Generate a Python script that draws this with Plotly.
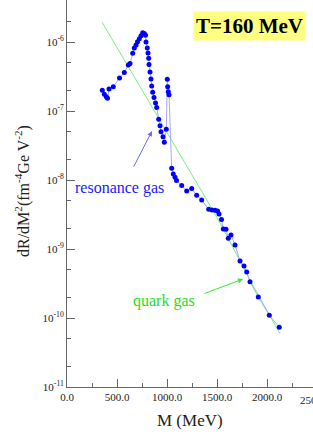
import plotly.graph_objects as go

# resonance gas rate (blue points)
mass_res = [353, 373, 393, 405, 420, 463, 525, 573, 613, 630, 657, 673, 690, 705, 723, 740,
            757, 773, 785, 790, 803, 810, 817, 820, 830, 840, 847, 857, 870, 885, 897, 917,
            930, 940, 960, 973, 993, 1003, 1007, 1013, 1020, 1047, 1063, 1080, 1095, 1147,
            1197, 1247, 1297, 1347, 1417, 1450, 1480, 1505, 1520, 1545, 1563, 1590, 1613,
            1640, 1680, 1730, 1770, 1797, 1830, 1913, 2023, 2123]
rate_res = [2.01e-7, 1.76e-7, 1.61e-7, 1.53e-7, 2.08e-7, 2.25e-7, 3.01e-7, 3.61e-7, 4.64e-7,
            4.88e-7, 6.86e-7, 8.19e-7, 9.05e-7, 1.01e-6, 1.12e-6, 1.24e-6, 1.37e-6, 1.33e-6,
            1.26e-6, 1.00e-6, 8.19e-7, 6.93e-7, 5.81e-7, 4.72e-7, 3.67e-7, 2.91e-7, 2.30e-7,
            1.88e-7, 1.57e-7, 1.31e-7, 1.13e-7, 7.58e-8, 6.12e-8, 5.01e-8, 4.24e-8, 3.52e-8,
            5.43e-8, 2.88e-7, 2.25e-7, 1.90e-7, 1.73e-7, 1.48e-8, 1.22e-8, 1.10e-8, 9.84e-9,
            8.32e-9, 6.93e-9, 7.53e-9, 6.02e-9, 5.13e-9, 3.76e-9, 3.68e-9, 3.64e-9, 3.56e-9,
            3.22e-9, 2.69e-9, 1.95e-9, 1.93e-9, 1.43e-9, 1.60e-9, 1.14e-9, 6.70e-10, 5.67e-10,
            4.64e-10, 3.36e-10, 2.02e-10, 1.10e-10, 7.33e-11]

# quark gas rate (green line)
mass_qgp = [350, 1030, 1510, 1830, 2130]
rate_qgp = [1.95e-6, 4.07e-8, 2.72e-9, 3.56e-10, 5.9e-11]

xtick_vals = [0, 500, 1000, 1500, 2000]
xtick_text = ["0.0", "500.0", "1000.0", "1500.0", "2000.0"]
ytick_vals = [1e-11, 1e-10, 1e-9, 1e-8, 1e-7, 1e-6]
ytick_text = ["10<sup>-11</sup>", "10<sup>-10</sup>", "10<sup>-9</sup>", "10<sup>-8</sup>",
              "10<sup>-7</sup>", "10<sup>-6</sup>"]

SERIF = "Times New Roman, Liberation Serif, serif"
L, B, PW, PH = 67, 49, 246, 387


def px(xp):
    return (xp - L) / PW


def py(yp):
    return (PH - yp) / PH


fig = go.Figure()
fig.add_trace(go.Scatter(x=mass_qgp, y=rate_qgp, mode="lines",
                         line=dict(color="#7cf07c", width=1), showlegend=False))
fig.add_trace(go.Scatter(x=mass_res, y=rate_res, mode="lines+markers",
                         line=dict(color="#a8a8ff", width=1),
                         marker=dict(color="#0000ff", size=5), showlegend=False))

axis_common = dict(showgrid=False, zeroline=False, showline=True, linecolor="#666666",
                   linewidth=1, ticks="inside", tickcolor="#666666", ticklen=8,
                   tickfont=dict(family=SERIF, size=11, color="#222222"))

fig.update_xaxes(range=[0, 2460], tickvals=xtick_vals, ticktext=xtick_text,
                 minor=dict(ticks="inside", ticklen=4, dtick=250, tickcolor="#666666"),
                 **axis_common)
fig.update_yaxes(type="log", range=[-11, -5.39], tickvals=ytick_vals, ticktext=ytick_text,
                 minor=dict(ticks="inside", ticklen=4, tickcolor="#666666"),
                 **axis_common)

C = dict(xanchor="center", yanchor="middle", showarrow=False, xref="paper", yref="paper")

fig.add_annotation(text="<b>T=160 MeV</b>", x=px(249.5), y=py(25.5), bgcolor="#ffff80",
                   borderpad=2, font=dict(family=SERIF, size=21, color="black"),
                   **C)

fig.add_annotation(text="resonance gas", x=px(119), y=py(188),
                   font=dict(family=SERIF, size=16, color="#1a1aff"), **C)
fig.add_annotation(x=850, y=-7.29, xref="x", yref="y", text="", showarrow=True,
                   ax=-19, ay=37, arrowhead=2, arrowsize=1, arrowwidth=1,
                   arrowcolor="#6a6aff")

fig.add_annotation(text="quark gas", x=px(164), y=py(301),
                   font=dict(family=SERIF, size=16, color="#22e022"), **C)
fig.add_annotation(x=1760, y=-9.435, xref="x", yref="y", text="", showarrow=True,
                   ax=-40, ay=15, arrowhead=2, arrowsize=1, arrowwidth=1,
                   arrowcolor="#33ee33")

fig.add_annotation(text="dR/dM<sup>2</sup>(fm<sup>-4</sup>Ge V<sup>-2</sup>)", x=px(22),
                   y=py(191), textangle=-90,
                   font=dict(family=SERIF, size=16, color="#222222"), **C)
fig.add_annotation(text="M (MeV)", x=px(190), y=py(420),
                   font=dict(family=SERIF, size=17, color="#222222"), **C)
fig.add_annotation(text="2500.0", x=px(315), y=py(400),
                   font=dict(family=SERIF, size=11, color="#222222"), **C)

fig.update_layout(width=313, height=436, margin=dict(l=L, r=0, t=0, b=B),
                  plot_bgcolor="white", paper_bgcolor="white",
                  font=dict(family=SERIF))

fig.write_html("out.html", config={"displayModeBar": False},
               post_script="document.body.style.margin='0';document.body.style.overflow='hidden';")
